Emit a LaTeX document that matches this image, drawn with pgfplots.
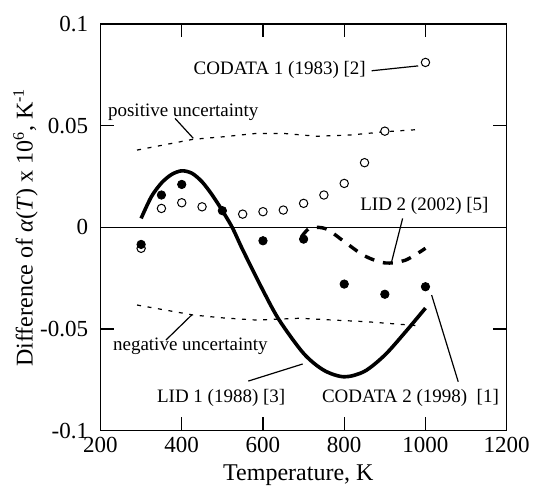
\documentclass[border=0pt]{standalone}
\usepackage{fontspec}
\setmainfont{Liberation Serif}
\usepackage{pgfplots}
\pgfplotsset{compat=1.18}
\begin{document}
\begin{tikzpicture}
\begin{axis}[
  name=ax,
  scale only axis,
  width=203.1pt, height=203.35pt,
  xmin=200, xmax=1200, ymin=-0.1, ymax=0.1,
  xtick={200,400,600,800,1000,1200}, xticklabels={200,400,600,800,1000,1200},
  ytick={-0.1,-0.05,0,0.05,0.1}, yticklabels={-0.1,-0.05,0,0.05,0.1},
  tick align=inside, major tick length=6.7pt,
  tick style={line width=0.6pt, black},
  axis line style={line width=0.6pt},
  ticklabel style={font=\fontsize{11.5}{13}\selectfont},
  xticklabel style={inner sep=0pt, yshift=-3pt},
  yticklabel style={inner sep=0pt, xshift=-6pt},
  xlabel={Temperature, K},
  ylabel={Difference of \textit{α}(\textit{T}) x 10\textsuperscript{6}, K\textsuperscript{-1}},
  xlabel style={at={(axis description cs:0.487,-0.1230)}, anchor=base, font=\fontsize{12}{14}\selectfont},
  ylabel style={at={(axis description cs:-0.167,0.5)}, anchor=base, font=\fontsize{12}{14}\selectfont},
  clip=false,
]
% zero line
\addplot[black, line width=0.5pt] coordinates {(200,0) (1200,0)};
% uncertainties
\addplot[black, line width=0.6pt, dash pattern=on 2pt off 3.3pt] coordinates {(290,0.0380)(428,0.0433)(500,0.0445)(584,0.0462)(650,0.0462)(732,0.0448)(814,0.0454)(900,0.0470)(990,0.0482)};
\addplot[black, line width=0.6pt, dash pattern=on 2pt off 3.3pt] coordinates {(290,-0.0382)(428,-0.0431)(500,-0.0445)(584,-0.0456)(691,-0.0447)(773,-0.0456)(855,-0.0464)(990,-0.0485)};
% LID 1
\addplot[black, line width=1.8pt, smooth] coordinates {(300,0.0044)(325,0.0150)(350,0.0218)(375,0.0260)(400,0.0278)(425,0.0266)(450,0.0224)(475,0.0159)(500,0.0082)(525,-0.0003)(550,-0.0110)(600,-0.0310)(640,-0.0456)(700,-0.0620)(750,-0.0703)(800,-0.0735)(850,-0.0708)(900,-0.0628)(950,-0.0516)(1000,-0.0397)};
% LID 2
\addplot[black, line width=1.7pt, dash pattern=on 5pt off 4.5pt, smooth] coordinates {(695,-0.0046)(712,-0.0008)(735,0.0)(760,-0.0012)(800,-0.0070)(850,-0.0140)(900,-0.0175)(950,-0.0162)(1000,-0.0103)};
% CODATA 1
\addplot[only marks, mark=*, mark size=2.1pt, mark options={fill=white, draw=black, line width=0.5pt}] coordinates {(300,-0.0103)(350,0.0093)(400,0.0121)(450,0.0101)(550,0.0065)(600,0.0077)(650,0.0085)(700,0.0118)(750,0.0159)(800,0.0216)(850,0.0318)(900,0.0473)(1000,0.0811)};
% CODATA 2
\addplot[only marks, mark=*, mark size=2.1pt, mark options={fill=black, draw=black}] coordinates {(300,-0.0084)(350,0.0159)(400,0.0211)(500,0.0082)(600,-0.0066)(700,-0.0058)(800,-0.0279)(900,-0.0329)(1000,-0.0292)};
% annotations
\begin{scope}[font=\fontsize{9.5}{11}\selectfont]
\node[anchor=base west, inner sep=0] at (axis cs:428.4,0.0751) {CODATA 1 (1983) [2]};
\draw[line width=0.6pt] (axis cs:867.5,0.0770) -- (axis cs:982.2,0.0794);
\node[anchor=base west, inner sep=0] at (axis cs:217.7,0.0544) {positive uncertainty};
\draw[line width=0.6pt] (axis cs:383.4,0.0536) -- (axis cs:428.4,0.0438);
\node[anchor=base west, inner sep=0] at (axis cs:838.7,0.0085) {LID 2 (2002) [5]};
\draw[line width=0.6pt] (axis cs:943.8,0.0044) -- (axis cs:916.7,-0.0169);
\node[anchor=base west, inner sep=0] at (axis cs:230,-0.0607) {negative uncertainty};
\draw[line width=0.6pt] (axis cs:361.2,-0.0554) -- (axis cs:424.5,-0.0431);
\node[anchor=base west, inner sep=0] at (axis cs:338.3,-0.0862) {LID 1 (1988) [3]};
\draw[line width=0.6pt] (axis cs:563.8,-0.0756) -- (axis cs:697.7,-0.0672);
\node[anchor=base west, inner sep=0] at (axis cs:744.4,-0.0862) {CODATA 2 (1998)\ \ [1]};
\draw[line width=0.6pt] (axis cs:1080.6,-0.0759) -- (axis cs:1015.2,-0.0333);
\end{scope}
\end{axis}
\pgfresetboundingbox
\path[use as bounding box] ([xshift=-50.25pt,yshift=-27.65pt]ax.south west) rectangle ([xshift=13.65pt,yshift=12pt]ax.north east);
\end{tikzpicture}
\end{document}
